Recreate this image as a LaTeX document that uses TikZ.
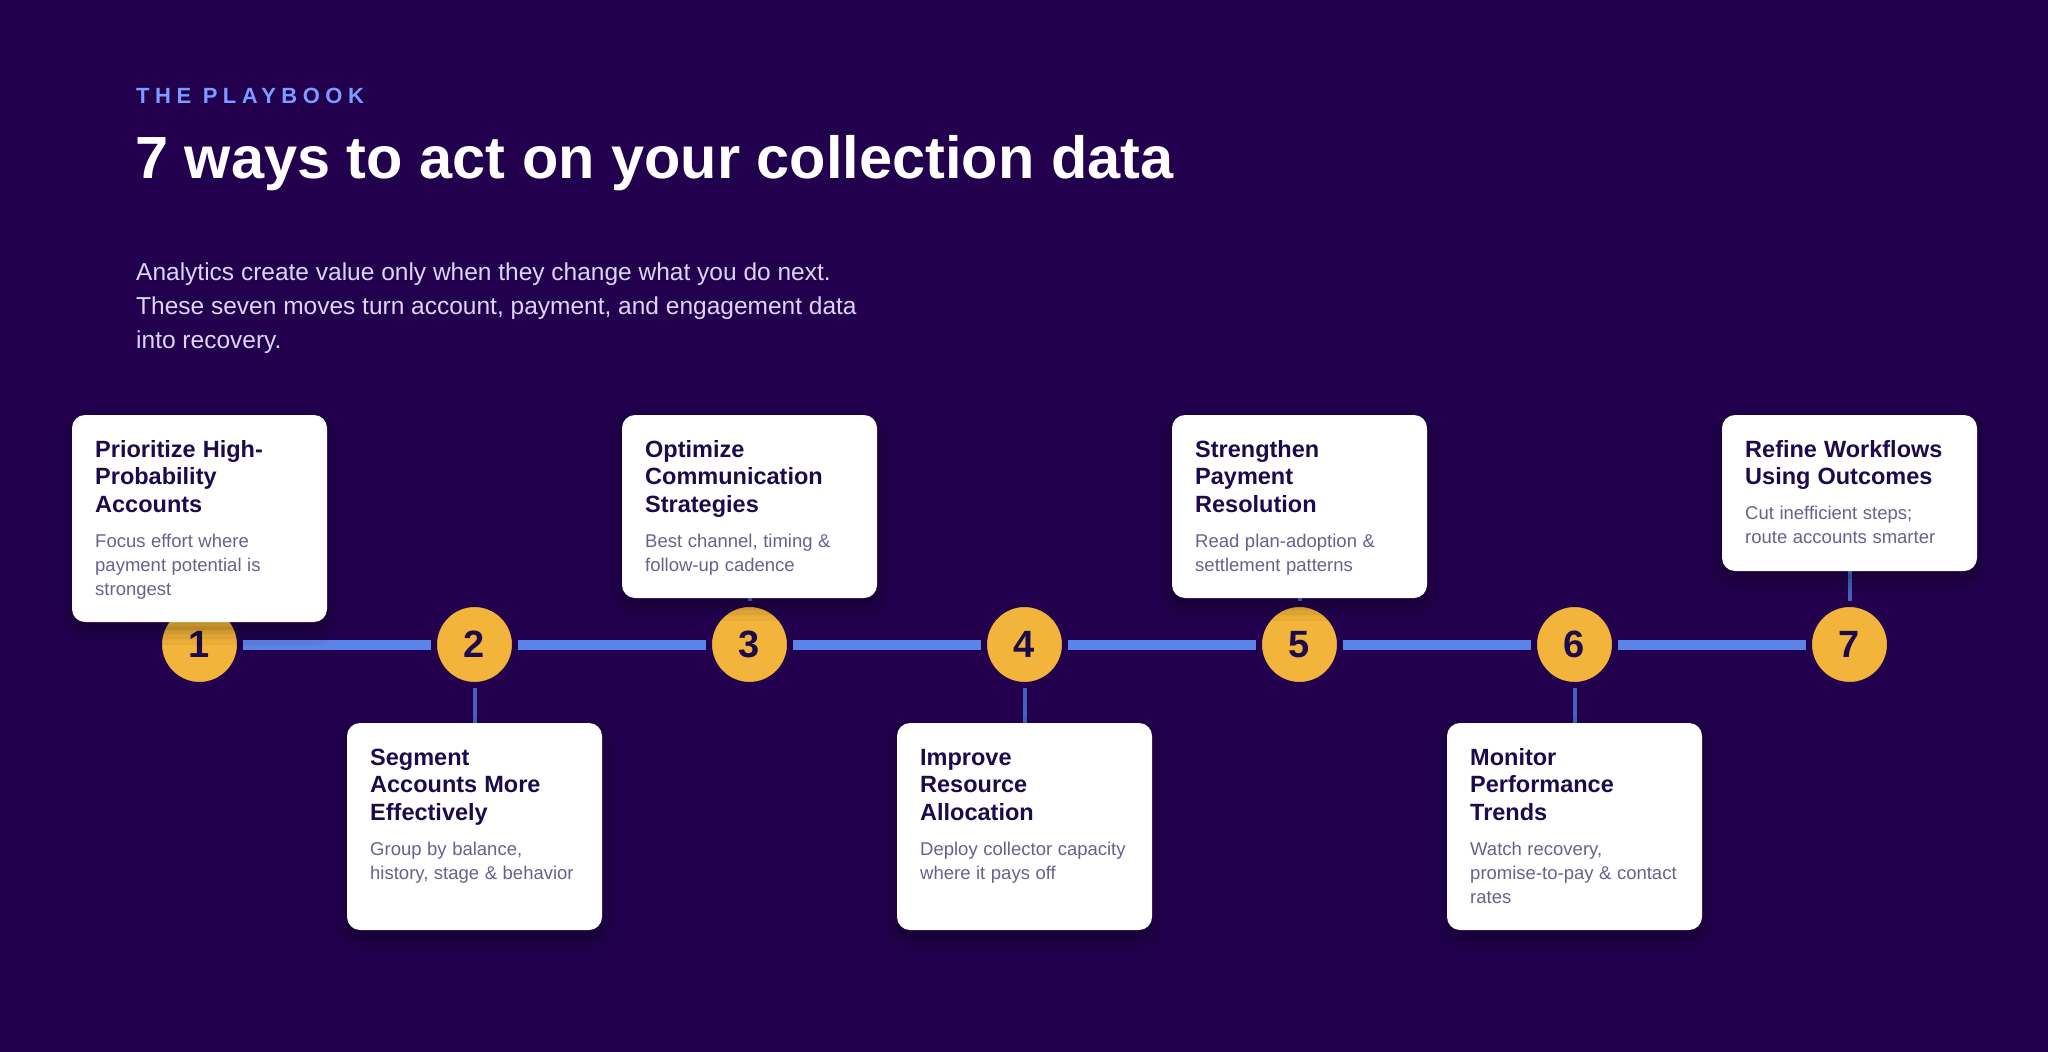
\documentclass[tikz,border=0pt]{standalone}
\usepackage{fontspec}
\setmainfont{Liberation Sans}
\newfontfamily\kickfont[LetterSpace=25]{Liberation Sans}
\definecolor{bgc}{HTML}{22004E}
\definecolor{kicker}{HTML}{7C9CFF}
\definecolor{subc}{HTML}{DCD6F4}
\definecolor{navy}{HTML}{1C0A4D}
\definecolor{bodyc}{HTML}{66628C}
\definecolor{circ}{HTML}{F2B43A}
\definecolor{tline}{HTML}{5B84E8}
\definecolor{connc}{HTML}{4660C0}
\pgfdeclarelayer{bglayer}
\pgfdeclarelayer{lines}
\pgfsetlayers{bglayer,lines,main}
\newcommand{\cardtitle}[1]{{\fontsize{23.5}{27.5}\selectfont\bfseries\color{navy}\spaceskip=0.3em\rule{0pt}{20pt}#1\par}\vspace{11pt}}
\newcommand{\cardbody}[1]{{\fontsize{18.5}{24}\selectfont\color{bodyc}\spaceskip=0.3em#1\par}}
\begin{document}
\begin{tikzpicture}[x=1pt,y=-1pt,
  card/.style={fill=white, rounded corners=13pt, minimum width=255pt, inner sep=0pt, outer sep=0pt,
    preaction={draw=black, draw opacity=0.04, line width=30pt, transform canvas={yshift=-8pt}},
    preaction={draw=black, draw opacity=0.05, line width=18pt, transform canvas={yshift=-8pt}},
    preaction={draw=black, draw opacity=0.06, line width=8pt, transform canvas={yshift=-8pt}},
    preaction={fill=black, fill opacity=0.10, transform canvas={yshift=-8pt}}},
  cardtext/.style={anchor=north west, inner sep=0pt, text width=218pt, align=left},
  num/.style={circle, fill=circ, draw=bgc, line width=6pt, minimum size=81pt, inner sep=0pt,
    font=\fontsize{38}{38}\selectfont\bfseries, text=navy},
  timeline/.style={draw=tline, line width=10pt},
  conn/.style={draw=connc, line width=4pt}]
\begin{pgfonlayer}{bglayer}
\fill[bgc] (0,0) rectangle (2048,1052);
\end{pgfonlayer}
\useasboundingbox (0,0) rectangle (2048,1052);

% header
\node[anchor=base west, inner sep=0pt, text=kicker, font=\kickfont\fontsize{22}{22}\selectfont\bfseries] (kick) at (136,103) {THE PLAYBOOK};
\node[anchor=base west, inner sep=0pt, text=white, font=\fontsize{59.5}{60}\selectfont\bfseries] (title) at (135,178) {7 ways to act on your collection data};
\node[anchor=north west, inner sep=0pt, align=left, text=subc, font=\fontsize{24.5}{34}\selectfont] (sub) at (136,260)
 {\rule{0pt}{20pt}Analytics create value only when they change what you do next.\\These seven moves turn account, payment, and engagement data\\into recovery.};

% circles
\node[num] (n1) at (199.5,644.5) {1};
\node[num] (n2) at (474.5,644.5) {2};
\node[num] (n3) at (749.5,644.5) {3};
\node[num] (n4) at (1024.5,644.5) {4};
\node[num] (n5) at (1299.5,644.5) {5};
\node[num] (n6) at (1574.5,644.5) {6};
\node[num] (n7) at (1849.5,644.5) {7};

% cards
\node[card, minimum height=207pt, anchor=north] (c1) at (199.5,415) {};
\node[card, minimum height=207pt, anchor=north] (c2) at (474.5,723) {};
\node[card, minimum height=183pt, anchor=north] (c3) at (749.5,415) {};
\node[card, minimum height=207pt, anchor=north] (c4) at (1024.5,723) {};
\node[card, minimum height=183pt, anchor=north] (c5) at (1299.5,415) {};
\node[card, minimum height=207pt, anchor=north] (c6) at (1574.5,723) {};
\node[card, minimum height=156pt, anchor=north] (c7) at (1849.5,415) {};

\node[cardtext] (t1) at ([xshift=23pt,yshift=-22pt]c1.north west)
 {\cardtitle{Prioritize High-\\Probability\\Accounts}\cardbody{Focus effort where\\payment potential is\\strongest}};
\node[cardtext] (t2) at ([xshift=23pt,yshift=-22pt]c2.north west)
 {\cardtitle{Segment\\Accounts More\\Effectively}\cardbody{Group by balance,\\history, stage \& behavior}};
\node[cardtext] (t3) at ([xshift=23pt,yshift=-22pt]c3.north west)
 {\cardtitle{Optimize\\Communication\\Strategies}\cardbody{Best channel, timing \&\\follow-up cadence}};
\node[cardtext] (t4) at ([xshift=23pt,yshift=-22pt]c4.north west)
 {\cardtitle{Improve\\Resource\\Allocation}\cardbody{Deploy collector capacity\\where it pays off}};
\node[cardtext] (t5) at ([xshift=23pt,yshift=-22pt]c5.north west)
 {\cardtitle{Strengthen\\Payment\\Resolution}\cardbody{Read plan-adoption \&\\settlement patterns}};
\node[cardtext] (t6) at ([xshift=23pt,yshift=-22pt]c6.north west)
 {\cardtitle{Monitor\\Performance\\Trends}\cardbody{Watch recovery,\\promise-to-pay \& contact\\rates}};
\node[cardtext] (t7) at ([xshift=23pt,yshift=-22pt]c7.north west)
 {\cardtitle{Refine Workflows\\Using Outcomes}\cardbody{Cut inefficient steps;\\route accounts smarter}};

% lines
\begin{pgfonlayer}{lines}
\draw[timeline] (n1) -- (n2);
\draw[timeline] (n2) -- (n3);
\draw[timeline] (n3) -- (n4);
\draw[timeline] (n4) -- (n5);
\draw[timeline] (n5) -- (n6);
\draw[timeline] (n6) -- (n7);
\draw[conn] (n2) -- (c2);
\draw[conn] (n3) -- (c3);
\draw[conn] (n4) -- (c4);
\draw[conn] (n5) -- (c5);
\draw[conn] (n6) -- (c6);
\draw[conn] (n7) -- (c7);
\end{pgfonlayer}
\end{tikzpicture}
\end{document}
